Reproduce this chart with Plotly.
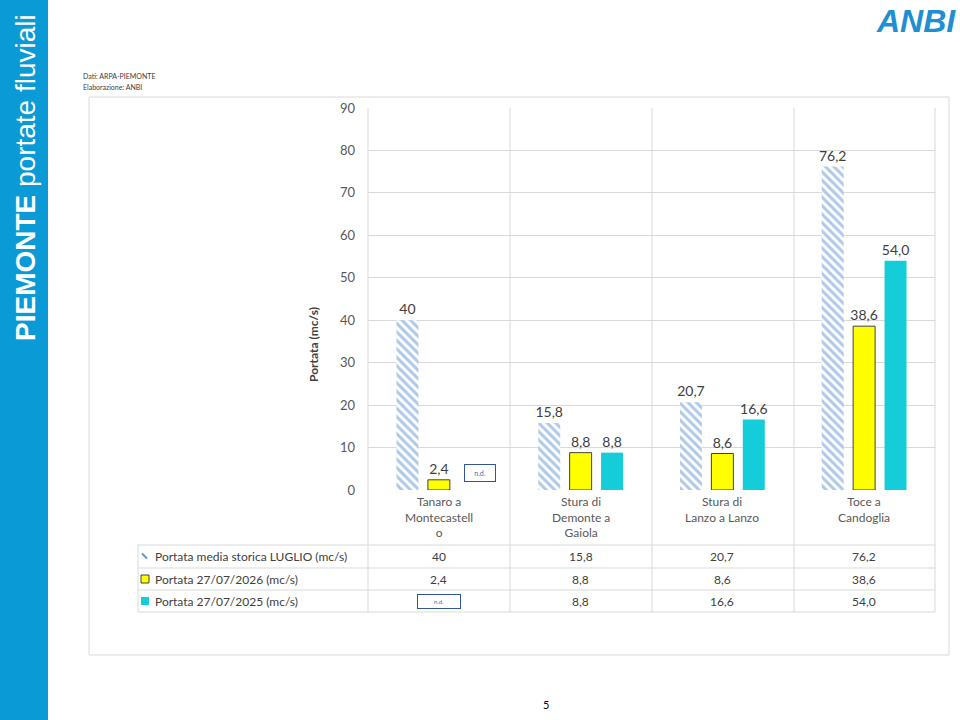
import plotly.graph_objects as go

categories = ["Tanaro a Montecastello", "Stura di Demonte a Gaiola", "Stura di Lanzo a Lanzo", "Toce a Candoglia"]
cat_labels = ["Tanaro a<br>Montecastell<br>o", "Stura di<br>Demonte a<br>Gaiola", "Stura di<br>Lanzo a Lanzo", "Toce a<br>Candoglia"]
series_names = ["Portata media storica LUGLIO (mc/s)", "Portata 27/07/2026 (mc/s)", "Portata 27/07/2025 (mc/s)"]
hist_vals = [40, 15.8, 20.7, 76.2]
v2026 = [2.4, 8.8, 8.6, 38.6]
v2025 = [None, 8.8, 16.6, 54.0]
y_ticks = [0, 10, 20, 30, 40, 50, 60, 70, 80, 90]

def it(v, fmt):
    if v is None:
        return "n.d."
    return format(v, fmt).replace(".", ",")

hist_txt = [it(v, "g") for v in hist_vals]
t2026 = [it(v, "g") for v in v2026]
t2025 = [it(v, ".1f") for v in v2025]

# plot area in pixels
L, R, T, B = 368, 935, 108, 490
W, H = 960, 720
def fx(p): return (p - L) / (R - L)
def fy(p): return (B - p) / (B - T)

FONT = "Lato"
TXT = "#404040"
GRID = "#d9d9d9"
HATCH = "#5E92D4"
YEL = "#FFFF00"
CYAN = "#14CDD9"

fig = go.Figure()
fig.add_bar(x=categories, y=hist_vals, name=series_names[0], text=hist_txt,
            marker=dict(color="white", line=dict(width=0),
                        pattern=dict(shape="\\", fgcolor=HATCH, bgcolor="white", size=6, solidity=0.5)))
fig.add_bar(x=categories, y=v2026, name=series_names[1], text=t2026,
            marker=dict(color=YEL, line=dict(color="#404040", width=1)))
fig.add_bar(x=categories, y=v2025, name=series_names[2], text=[t if v is not None else "" for t, v in zip(t2025, v2025)],
            marker=dict(color=CYAN, line=dict(width=0)))
fig.update_traces(textposition="outside", cliponaxis=False, textangle=0, constraintext="none",
                  textfont=dict(family=FONT, size=14, color=TXT))

shapes = []
ann = []
def A(**kw):
    kw.setdefault("showarrow", False)
    kw.setdefault("xanchor", "center")
    kw.setdefault("yanchor", "middle")
    ann.append(kw)

# outer chart frame
shapes.append(dict(type="rect", xref="paper", yref="paper", x0=fx(89), x1=fx(949), y0=fy(97), y1=fy(655),
                   line=dict(color=GRID, width=1), layer="below"))
# left sidebar
shapes.append(dict(type="rect", xref="paper", yref="paper", x0=fx(0), x1=fx(48), y0=fy(0), y1=fy(720),
                   fillcolor="#0A9AD6", line=dict(width=0)))
# vertical separators / borders
for xp in [368, 510, 652, 794, 935]:
    shapes.append(dict(type="line", xref="paper", yref="paper", x0=fx(xp), x1=fx(xp), y0=fy(T), y1=fy(612),
                       line=dict(color=GRID, width=1)))
shapes.append(dict(type="line", xref="paper", yref="paper", x0=fx(138), x1=fx(138), y0=fy(545), y1=fy(612),
                   line=dict(color=GRID, width=1)))
rows = [545, 568, 590, 612]
for yp in rows:
    shapes.append(dict(type="line", xref="paper", yref="paper", x0=fx(138), x1=fx(935), y0=fy(yp), y1=fy(yp),
                       line=dict(color=GRID, width=1)))

# category labels
for c, lab in zip(categories, cat_labels):
    A(x=c, y=fy(492), xref="x", yref="paper", text=lab, yanchor="top",
      font=dict(family=FONT, size=12, color="#595959"), align="center")

# data table
row_centers = [(rows[i] + rows[i + 1]) / 2 for i in range(3)]
table_txt = [hist_txt, t2026, t2025]
for r, (nm, vals) in enumerate(zip(series_names, table_txt)):
    yc = fy(row_centers[r])
    A(x=fx(153), y=yc, xref="paper", yref="paper", text=nm, xanchor="left",
      font=dict(family=FONT, size=12, color=TXT))
    for c, t in zip(categories, vals):
        if t == "n.d.":
            A(x=c, y=yc, xref="x", yref="paper", text="n.d.",
              font=dict(family=FONT, size=6, color="#2E75B6"), bordercolor="#2F5597",
              borderwidth=1, width=40, height=11, bgcolor="white")
        else:
            A(x=c, y=yc, xref="x", yref="paper", text=t, font=dict(family=FONT, size=12, color=TXT))

# legend keys
yk = row_centers
shapes.append(dict(type="line", xref="paper", yref="paper", x0=fx(142), x1=fx(147), y0=fy(yk[0] - 3), y1=fy(yk[0] + 2),
                   line=dict(color=HATCH, width=2)))
shapes.append(dict(type="rect", xref="paper", yref="paper", x0=fx(141), x1=fx(149), y0=fy(yk[1] - 4), y1=fy(yk[1] + 4),
                   fillcolor=YEL, line=dict(color="#404040", width=1)))
shapes.append(dict(type="rect", xref="paper", yref="paper", x0=fx(141), x1=fx(149), y0=fy(yk[2] - 4), y1=fy(yk[2] + 4),
                   fillcolor=CYAN, line=dict(width=0)))

# n.d. box in chart for missing 2025 value
slot = (R - L) / len(categories) * (1 - 0.335) / 3
for c, v in zip(categories, v2025):
    if v is None:
        A(x=c, y=4, xref="x", yref="y", text="n.d.", xshift=slot + 10,
          font=dict(family=FONT, size=7, color="#2E75B6"), bordercolor="#2F5597",
          borderwidth=1, width=28, height=14, bgcolor="white")

# axis title
A(x=fx(313), y=fy(345), xref="paper", yref="paper", text="<b>Portata (mc/s)</b>",
  textangle=-90, font=dict(family=FONT, size=12, color=TXT))
# sources
A(x=fx(81), y=fy(76), xref="paper", yref="paper", text="Dati: ARPA-PIEMONTE",
  xanchor="left", font=dict(family=FONT, size=7, color=TXT))
A(x=fx(81), y=fy(87), xref="paper", yref="paper", text="Elaborazione: ANBI",
  xanchor="left", font=dict(family=FONT, size=7, color=TXT))
# sidebar title
A(x=fx(25), y=fy(178), xref="paper", yref="paper",
  text="<b>PIEMONTE</b> portate fluviali", textangle=-90,
  font=dict(family="Liberation Sans", size=28, color="white"))
# logo
A(x=fx(916), y=fy(21), xref="paper", yref="paper", text="<b><i>ANBI</i></b>",
  font=dict(family="Liberation Sans", size=32, color="#1E8FD2"))
shapes.append(dict(type="path", xref="paper", yref="paper",
                   path=f"M {fx(880)},{fy(25)} Q {fx(915)},{fy(15)} {fx(955)},{fy(22)}",
                   line=dict(color="white", width=2)))
# page number
A(x=fx(546), y=fy(705), xref="paper", yref="paper", text="5",
  font=dict(family=FONT, size=11, color="black"))

fig.update_layout(
    width=W, height=H, margin=dict(l=L, r=W - R, t=T, b=H - B, pad=0),
    paper_bgcolor="white", plot_bgcolor="white", showlegend=False,
    barmode="group", bargap=0.335, bargroupgap=0.3,
    shapes=shapes, annotations=ann,
    xaxis=dict(showticklabels=False, showgrid=False, showline=False, zeroline=False, ticks=""),
    yaxis=dict(range=[0, 90], tickvals=y_ticks, showgrid=True, gridcolor=GRID, zeroline=False, showline=False,
               tickfont=dict(family=FONT, size=13, color="#595959"), ticks="", ticklabelstandoff=12),
)

fig.write_html("out.html", config={"displayModeBar": False},
               post_script="document.body.style.margin='0';")
